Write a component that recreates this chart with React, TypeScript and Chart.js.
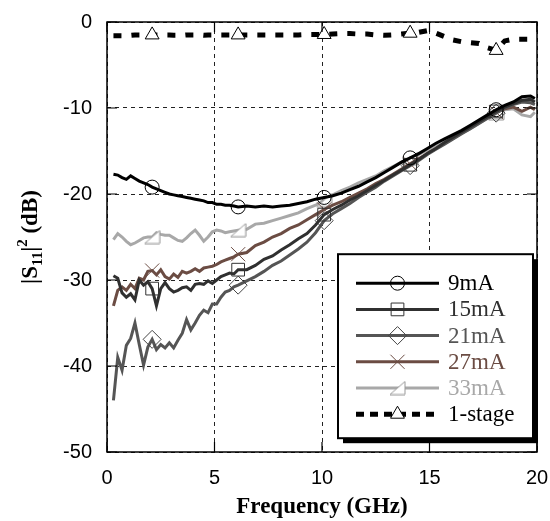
import React, { useEffect, useRef } from 'react';
import { Chart, registerables } from 'chart.js';

Chart.register(...registerables);

// Frequency grid (GHz)
const freqGHz = [
  0.3, 0.5, 0.7, 0.9, 1.1, 1.3, 1.5, 1.7, 1.9, 2.1, 2.3, 2.5, 2.7, 2.9, 3.1, 3.3, 3.5, 3.7, 3.9, 4.1,
  4.3, 4.5, 4.7, 4.9, 5.1, 5.3, 5.5, 5.7, 5.9,
  6.1, 6.5, 6.9, 7.3, 7.7, 8.1, 8.5, 8.9, 9.3, 9.7,
  10.1, 10.5, 10.9, 11.3, 11.7, 12.1, 12.5, 12.9, 13.3, 13.7,
  14.1, 14.5, 14.9, 15.3, 15.7, 16.1, 16.5, 16.9, 17.3, 17.7,
  18.1, 18.5, 18.9, 19.3, 19.7, 19.9,
];

const s9mA = [
  -17.7, -17.8, -18.1, -18.3, -17.9, -18.2, -18.5, -18.7, -18.9, -19.2, -19.4, -19.6, -19.8, -20.0, -20.1, -20.2, -20.3, -20.4, -20.5, -20.6,
  -20.7, -20.8, -21.0, -21.0, -21.2, -21.2, -21.3, -21.3, -21.4,
  -21.5, -21.4, -21.5, -21.4, -21.5, -21.4, -21.3, -21.1, -20.9, -20.6,
  -20.4, -20.2, -19.9, -19.5, -19.1, -18.6, -18.1, -17.5, -16.9, -16.3,
  -15.8, -15.3, -14.7, -14.1, -13.6, -13.1, -12.6, -12.0, -11.4, -10.8,
  -10.2, -9.7, -9.3, -8.7, -8.6, -8.9,
];

const s15mA = [
  -29.5, -29.8, -31.5, -32.0, -31.6, -32.3, -30.0, -30.6, -30.2, -31.0, -33.0, -31.0, -30.3, -31.0, -31.4, -31.2, -30.9, -30.8, -31.2, -30.5,
  -30.4, -30.5, -30.1, -30.4, -30.0, -29.6, -29.4, -29.2, -29.3,
  -28.8, -28.8, -28.3, -27.6, -27.2, -26.5, -25.9, -25.2, -24.6, -23.6,
  -22.4, -21.8, -21.3, -20.7, -20.2, -19.6, -19.0, -18.4, -17.8, -17.2,
  -16.6, -16.0, -15.3, -14.7, -14.0, -13.4, -12.8, -12.2, -11.6, -11.0,
  -10.4, -9.9, -9.5, -9.1, -9.0, -9.3,
];

const s21mA = [
  -44.0, -39.0, -40.5, -37.6, -36.8, -35.0, -37.5, -39.9, -37.8, -36.9, -38.1, -37.5, -37.9, -37.3, -37.9, -37.0, -36.2, -34.6, -35.8, -35.0,
  -34.1, -33.5, -33.8, -32.8, -32.8, -32.0, -31.4, -31.2, -30.8,
  -30.6, -30.1, -29.6, -29.0, -28.3, -27.8, -27.1, -26.4, -25.6, -24.5,
  -23.1, -22.3, -21.7, -21.1, -20.4, -19.8, -19.2, -18.5, -17.9, -17.3,
  -16.7, -16.1, -15.4, -14.8, -14.2, -13.6, -13.0, -12.4, -11.8, -11.2,
  -10.6, -10.0, -9.6, -9.3, -9.4, -9.6,
];

const s27mA = [
  -33.0, -31.2, -30.8, -31.2, -30.5, -31.0, -29.8, -30.0, -29.0, -28.9, -29.4, -28.8, -29.6, -29.9, -29.3, -29.7, -29.0, -29.2, -29.0, -28.7,
  -29.0, -28.6, -28.5, -28.4, -28.2, -27.9, -27.7, -27.5, -27.3,
  -27.0, -26.8, -26.0, -25.6, -25.0, -24.6, -24.0, -23.6, -23.0, -22.4,
  -21.8, -21.3, -20.9, -20.4, -19.9, -19.4, -18.8, -18.3, -17.7, -17.1,
  -16.5, -15.9, -15.3, -14.7, -14.1, -13.5, -12.9, -12.3, -11.7, -11.1,
  -10.5, -10.1, -9.9, -10.4, -9.9, -10.2,
];

const s33mA = [
  -25.3, -24.6, -25.0, -25.5, -25.9, -25.7, -25.4, -25.1, -25.0, -25.0, -24.5, -24.7, -24.8, -24.8, -25.1, -25.4, -25.5, -25.1, -24.6, -24.2,
  -24.8, -25.5, -25.0, -24.4, -24.2, -24.3, -24.5, -24.4, -24.3,
  -24.2, -24.1, -23.5, -23.4, -23.1, -22.8, -22.5, -22.2, -21.7, -21.3,
  -20.7, -20.1, -19.6, -19.2, -18.7, -18.3, -17.9, -17.3, -16.8, -16.3,
  -15.9, -15.4, -14.9, -14.4, -13.9, -13.4, -12.9, -12.4, -11.8, -11.2,
  -10.6, -10.2, -10.1, -10.8, -11.0, -10.5,
];

const s1stage = [
  -1.6, -1.6, -1.6, -1.55, -1.55, -1.5, -1.5, -1.5, -1.5, -1.5, -1.5, -1.5, -1.5, -1.5, -1.55, -1.55, -1.55, -1.5, -1.5, -1.5,
  -1.5, -1.55, -1.5, -1.5, -1.5, -1.5, -1.5, -1.5, -1.5,
  -1.5, -1.5, -1.5, -1.5, -1.5, -1.5, -1.5, -1.5, -1.45, -1.45,
  -1.45, -1.4, -1.35, -1.35, -1.4, -1.4, -1.5, -1.55, -1.5, -1.4,
  -1.3, -1.2, -1.0, -1.3, -1.7, -2.1, -2.3, -2.4, -2.5, -3.0,
  -3.3, -2.2, -2.0, -2.0, -2.0, -2.0,
];

const seriesLabels = ['9mA', '15mA', '21mA', '27mA', '33mA', '1-stage'];
const markerFreqs = [2.1, 6.1, 10.1, 14.1, 18.1];
const xTickValues = [0, 5, 10, 15, 20];
const yTickValues = [0, -10, -20, -30, -40, -50];
const xTitle = 'Frequency (GHz)';

const SERIF = '"Liberation Serif", "Times New Roman", serif';
const SANS = '"Liberation Sans", Arial, sans-serif';

function makeRightTriangle(stroke: string): HTMLCanvasElement {
  const c = document.createElement('canvas');
  c.width = 17;
  c.height = 15;
  const g = c.getContext('2d')!;
  g.beginPath();
  g.moveTo(1, 14);
  g.lineTo(16, 14);
  g.lineTo(16, 1);
  g.closePath();
  g.fillStyle = '#fff';
  g.fill();
  g.strokeStyle = stroke;
  g.lineWidth = 1;
  g.stroke();
  return c;
}

function drawMarker(ctx: CanvasRenderingContext2D, style: any, x: number, y: number, r: number, stroke: string, fill: string) {
  ctx.save();
  ctx.lineWidth = 1;
  ctx.strokeStyle = stroke;
  ctx.fillStyle = fill;
  if (typeof style !== 'string') {
    ctx.drawImage(style, x - style.width / 2, y - style.height / 2);
    ctx.restore();
    return;
  }
  ctx.beginPath();
  if (style === 'circle') {
    ctx.arc(x, y, r, 0, Math.PI * 2);
  } else if (style === 'rect') {
    const s = Math.SQRT1_2 * r;
    ctx.rect(x - s, y - s, 2 * s, 2 * s);
  } else if (style === 'rectRot') {
    ctx.moveTo(x - r, y);
    ctx.lineTo(x, y - r);
    ctx.lineTo(x + r, y);
    ctx.lineTo(x, y + r);
    ctx.closePath();
  } else if (style === 'crossRot') {
    const s = Math.SQRT1_2 * r;
    ctx.moveTo(x - s, y - s);
    ctx.lineTo(x + s, y + s);
    ctx.moveTo(x - s, y + s);
    ctx.lineTo(x + s, y - s);
  } else if (style === 'triangle') {
    const w = r * Math.sin(Math.PI / 3);
    ctx.moveTo(x, y - r);
    ctx.lineTo(x + w, y + r / 2);
    ctx.lineTo(x - w, y + r / 2);
    ctx.closePath();
  }
  if (style !== 'crossRot') ctx.fill();
  ctx.stroke();
  ctx.restore();
}

export default function App() {
  const canvasRef = useRef<HTMLCanvasElement | null>(null);

  useEffect(() => {
    document.body.style.margin = '0';
    const canvas = canvasRef.current;
    if (!canvas) return;

    const triImg = makeRightTriangle('#999');

    const isMarker = (i: number) => markerFreqs.some((m) => Math.abs(freqGHz[i] - m) < 1e-6);

    const specs = [
      { values: s9mA, color: '#000000', style: 'circle', r: 7, mStroke: '#000', mFill: 'rgba(0,0,0,0)', width: 3, dash: [] as number[] },
      { values: s15mA, color: '#303030', style: 'rect', r: 9, mStroke: '#333', mFill: 'rgba(0,0,0,0)', width: 3, dash: [] },
      { values: s21mA, color: '#555555', style: 'rectRot', r: 9, mStroke: '#444', mFill: 'rgba(0,0,0,0)', width: 3, dash: [] },
      { values: s27mA, color: '#6b4c43', style: 'crossRot', r: 10, mStroke: '#6b4c43', mFill: 'rgba(0,0,0,0)', width: 3, dash: [] },
      { values: s33mA, color: '#a8a8a8', style: triImg as any, r: 8, mStroke: '#999', mFill: '#fff', width: 3, dash: [] },
      { values: s1stage, color: '#000000', style: 'triangle', r: 8, mStroke: '#000', mFill: '#fff', width: 5, dash: [8, 10] },
    ];

    const datasets = specs.map((s, k) => ({
      label: seriesLabels[k],
      data: freqGHz.map((f, i) => ({ x: f, y: s.values[i] })),
      borderColor: s.color,
      backgroundColor: s.color,
      borderWidth: s.width,
      borderDash: s.dash,
      borderCapStyle: 'butt' as const,
      tension: 0,
      pointStyle: s.style,
      pointRadius: (c: any) => (isMarker(c.dataIndex) ? s.r : 0),
      pointHoverRadius: 0,
      pointBorderColor: s.mStroke,
      pointBackgroundColor: s.mFill,
      pointBorderWidth: 1,
    }));

    const decor = {
      id: 'decor',
      afterDraw(chart: any) {
        const ctx: CanvasRenderingContext2D = chart.ctx;
        const a = chart.chartArea;
        const xs = chart.scales.x;
        const ys = chart.scales.y;
        ctx.save();
        // frame
        ctx.strokeStyle = '#000';
        ctx.lineWidth = 1.5;
        ctx.setLineDash([]);
        ctx.strokeRect(a.left, a.top, a.right - a.left, a.bottom - a.top);
        // inner ticks
        ctx.lineWidth = 1.2;
        ctx.beginPath();
        xTickValues.forEach((v) => {
          const px = xs.getPixelForValue(v);
          ctx.moveTo(px, a.bottom);
          ctx.lineTo(px, a.bottom - 10);
          ctx.moveTo(px, a.top);
          ctx.lineTo(px, a.top + 10);
        });
        yTickValues.forEach((v) => {
          const py = ys.getPixelForValue(v);
          ctx.moveTo(a.left, py);
          ctx.lineTo(a.left + 10, py);
          ctx.moveTo(a.right, py);
          ctx.lineTo(a.right - 10, py);
        });
        ctx.stroke();

        // x title
        ctx.fillStyle = '#000';
        ctx.font = 'bold 23px ' + SERIF;
        ctx.textAlign = 'center';
        ctx.textBaseline = 'alphabetic';
        ctx.fillText(xTitle, (a.left + a.right) / 2, 513);

        // y title with sub/superscript
        ctx.save();
        ctx.translate(29, (a.top + a.bottom) / 2);
        ctx.rotate(-Math.PI / 2);
        const big = 'bold 23px ' + SERIF;
        const small = 'bold 15px ' + SERIF;
        const parts = [
          { t: '|S', f: big, dy: 0 },
          { t: '11', f: small, dy: 5 },
          { t: '|', f: big, dy: 0 },
          { t: '2', f: small, dy: -10 },
          { t: ' (dB)', f: big, dy: 0 },
        ];
        let total = 0;
        parts.forEach((p) => {
          ctx.font = p.f;
          total += ctx.measureText(p.t).width;
        });
        let cx = -total / 2;
        ctx.textAlign = 'left';
        parts.forEach((p) => {
          ctx.font = p.f;
          ctx.fillText(p.t, cx, 8 + p.dy);
          cx += ctx.measureText(p.t).width;
        });
        ctx.restore();

        // legend
        const bw = 195;
        const bh = 184;
        const bx = a.right - 199;
        const by = ys.getPixelForValue(-27.0);
        ctx.fillStyle = '#000';
        ctx.fillRect(bx + 5, by + 5, bw, bh);
        ctx.fillStyle = '#fff';
        ctx.fillRect(bx, by, bw, bh);
        ctx.strokeStyle = '#000';
        ctx.lineWidth = 2;
        ctx.strokeRect(bx, by, bw, bh);
        const lx0 = bx + 18;
        const lx1 = bx + 101;
        const lxm = (lx0 + lx1) / 2;
        specs.forEach((s, k) => {
          const y = by + 29 + k * 26.2;
          ctx.save();
          ctx.strokeStyle = s.color;
          ctx.lineWidth = s.width;
          ctx.setLineDash(k === 5 ? [8, 6] : []);
          ctx.beginPath();
          ctx.moveTo(lx0, y);
          ctx.lineTo(lx1, y);
          ctx.stroke();
          ctx.restore();
          drawMarker(ctx, s.style, lxm, y, s.r, s.mStroke, s.mFill);
          ctx.fillStyle = s.color;
          ctx.font = '23px ' + SERIF;
          ctx.textAlign = 'left';
          ctx.textBaseline = 'middle';
          ctx.fillText(seriesLabels[k], bx + 110, y + 1);
        });
        ctx.restore();
      },
    };

    const chart = new Chart(canvas, {
      type: 'line',
      data: { datasets: datasets as any },
      options: {
        animation: false,
        responsive: true,
        maintainAspectRatio: false,
        layout: { padding: { top: 22, right: 13, left: 0, bottom: 0 } },
        plugins: { legend: { display: false }, tooltip: { enabled: false }, title: { display: false } },
        events: [],
        scales: {
          x: {
            type: 'linear',
            min: 0,
            max: 20,
            afterFit: (s: any) => {
              s.height = 69;
              s.paddingLeft = 0;
              s.paddingRight = 0;
            },
            afterBuildTicks: (s: any) => {
              s.ticks = xTickValues.map((v) => ({ value: v }));
            },
            ticks: {
              font: { family: SANS, size: 20 },
              color: '#000',
              padding: 14,
              maxRotation: 0,
              callback: (v: any) => String(v),
            },
            grid: { color: '#222', lineWidth: 1, drawTicks: false, tickLength: 0 },
            border: { display: false, dash: [4, 4] },
          },
          y: {
            type: 'linear',
            min: -50,
            max: 0,
            afterFit: (s: any) => {
              s.width = 107;
              s.paddingTop = 0;
              s.paddingBottom = 0;
            },
            afterBuildTicks: (s: any) => {
              s.ticks = yTickValues.map((v) => ({ value: v }));
            },
            ticks: {
              font: { family: SANS, size: 20 },
              color: '#000',
              padding: 15,
              callback: (v: any) => String(v),
            },
            grid: { color: '#222', lineWidth: 1, drawTicks: false, tickLength: 0 },
            border: { display: false, dash: [4, 4] },
          },
        },
      } as any,
      plugins: [decor],
    });

    return () => {
      chart.destroy();
    };
  }, []);

  return (
    <div style={{ position: 'relative', width: 550, height: 521 }}>
      <canvas ref={canvasRef} />
    </div>
  );
}
